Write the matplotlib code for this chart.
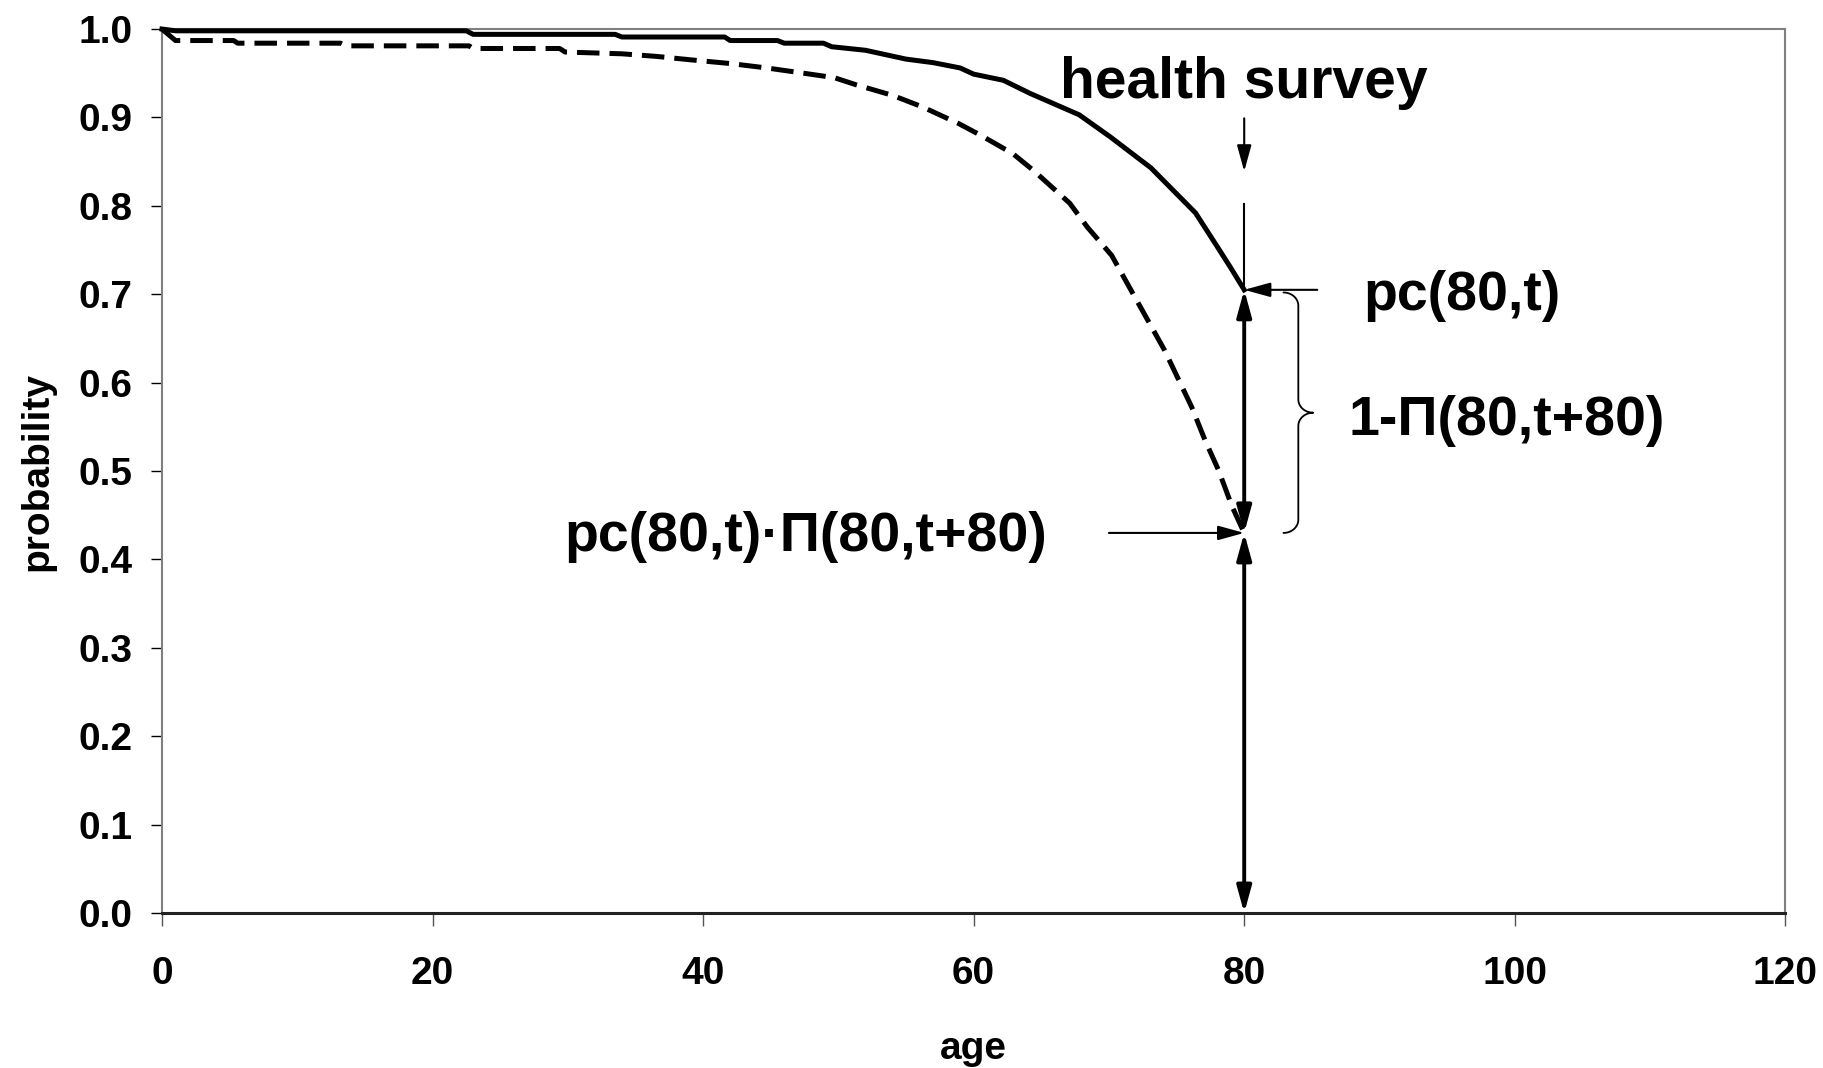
import numpy as np
import matplotlib.pyplot as plt

plt.rcParams['font.family'] = ['Liberation Sans', 'DejaVu Sans']
plt.rcParams['font.weight'] = 'bold'

# Solid curve: probability without the condition
solid_age = [0, 1, 22.5, 23, 33.5, 34, 41.6, 42, 45.5, 46, 48.9, 49.5, 52, 55,
             57, 59, 60, 62.2, 64.2, 66, 67.8, 70.1, 73.1, 76.4, 78, 79, 80]
solid_p = [1.0, 0.998, 0.998, 0.994, 0.994, 0.991, 0.991, 0.987, 0.987, 0.984,
           0.984, 0.980, 0.976, 0.966, 0.962, 0.956, 0.949, 0.942, 0.927, 0.915,
           0.903, 0.878, 0.843, 0.792, 0.754, 0.730, 0.705]

# Dashed curve
dashed_age = [0, 1.0, 5.3, 5.6, 13.2, 13.6, 22.7, 23, 29.4, 29.8, 34, 36.6, 39.2,
              42, 44.7, 47, 49.7, 51.3, 54, 56.2, 58.9, 60.5, 62.9, 64.5, 67.1,
              68.4, 70.2, 71.8, 74.1, 76.1, 77.1, 78.1, 79.1, 80]
dashed_p = [1.0, 0.987, 0.987, 0.984, 0.984, 0.981, 0.981, 0.978, 0.978, 0.974,
            0.972, 0.969, 0.965, 0.961, 0.956, 0.951, 0.945, 0.937, 0.925, 0.912,
            0.893, 0.880, 0.859, 0.839, 0.803, 0.776, 0.744, 0.700, 0.637, 0.573,
            0.535, 0.501, 0.460, 0.430]

x_ticks = [0, 20, 40, 60, 80, 100, 120]
y_ticks = [0.0, 0.1, 0.2, 0.3, 0.4, 0.5, 0.6, 0.7, 0.8, 0.9, 1.0]

survey_age = 80
pc_label = "pc(80,t)"
brace_label = "1-\u03a0(80,t+80)"
joint_label = "pc(80,t)\u00b7\u03a0(80,t+80)"


def add_arrow(ax, start, end, style, lw):
    # Plain annotate arrow with a filled head
    ax.annotate("", xy=end, xytext=start,
                arrowprops=dict(arrowstyle=style + ",head_length=0.8,head_width=0.22",
                                color="black", lw=lw, shrinkA=0, shrinkB=0,
                                mutation_scale=20),
                annotation_clip=False)


def draw_brace(ax, x0, y_top, y_bot, dx, ry):
    # Curly brace "}" built from four quarter arcs and two straight parts
    t = np.linspace(0, np.pi / 2, 25)
    y_mid = (y_top + y_bot) / 2
    xs = np.concatenate([
        x0 + dx * np.sin(t),
        x0 + 2 * dx - dx * np.cos(t),
        x0 + 2 * dx - dx * np.sin(t),
        x0 + dx * np.cos(t),
    ])
    ys = np.concatenate([
        y_top - ry + ry * np.cos(t),
        y_mid + ry - ry * np.sin(t),
        y_mid - ry + ry * np.cos(t),
        y_bot + ry - ry * np.sin(t),
    ])
    ax.plot(xs, ys, color="black", lw=1.3, solid_capstyle="round")


fig = plt.figure(figsize=(18.24, 10.68), dpi=100)
ax = fig.add_axes([0.0888, 0.1451, 0.8900, 0.8277])

ax.plot(solid_age, solid_p, color="black", lw=3.6, clip_on=False, zorder=3)
ax.plot(dashed_age, dashed_p, color="black", lw=3.6, dashes=(4.5, 2),
        clip_on=False, zorder=3)

ax.set_xlim(0, 120)
ax.set_ylim(0, 1.0)
ax.set_xticks(x_ticks)
ax.set_yticks(y_ticks)
ax.set_yticklabels([f"{v:.1f}" for v in y_ticks])

ax.tick_params(axis="y", direction="out", length=8, width=1, color="black",
               labelsize=28, pad=13)
ax.tick_params(axis="x", direction="out", length=9, width=1, color="#555555",
               labelsize=28, pad=22)

for side in ["left", "right", "top"]:
    ax.spines[side].set_color("#808080")
    ax.spines[side].set_linewidth(1.5)
ax.spines["bottom"].set_color("#222222")
ax.spines["bottom"].set_linewidth(2.2)

ax.set_xlabel("age", fontsize=28, fontweight="bold", labelpad=28)
ax.set_ylabel("probability", fontsize=28, fontweight="bold", labelpad=17)

# Annotations around the survey age
pc_val = solid_p[-1]
joint_val = dashed_p[-1]

ax.text(survey_age, 0.922, "health survey", fontsize=41, fontweight="bold",
        ha="center", va="baseline")
add_arrow(ax, (survey_age, 0.899), (survey_age, 0.839), "-|>", 1.5)
ax.plot([survey_age, survey_age], [0.802, pc_val], color="black", lw=1.5)
add_arrow(ax, (survey_age, joint_val), (survey_age, pc_val), "<|-|>", 2.8)
add_arrow(ax, (survey_age, joint_val), (survey_age, 0.0), "<|-|>", 2.8)

add_arrow(ax, (85.4, pc_val), (survey_age, pc_val), "-|>", 1.5)
add_arrow(ax, (70.0, joint_val), (survey_age, joint_val), "-|>", 1.5)

draw_brace(ax, 82.9, pc_val - 0.003, joint_val, 1.1, 0.015)

ax.text(88.8, 0.682, pc_label, fontsize=40, fontweight="bold",
        ha="left", va="baseline")
ax.text(87.7, 0.541, brace_label, fontsize=40, fontweight="bold",
        ha="left", va="baseline")
ax.text(65.4, 0.41, joint_label, fontsize=40, fontweight="bold",
        ha="right", va="baseline")

fig.savefig("out.png", dpi=100)
